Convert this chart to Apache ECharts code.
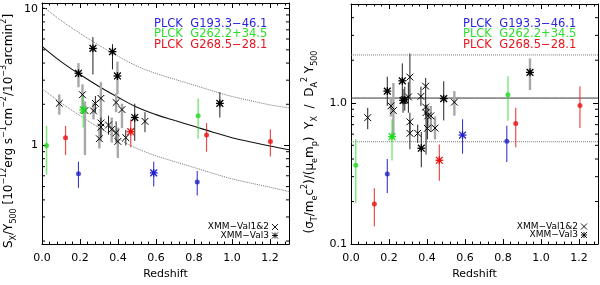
<!DOCTYPE html>
<html><head><meta charset="utf-8">
<script src="https://cdn.jsdelivr.net/npm/echarts@6/dist/echarts.min.js"></script>
<style>html,body{margin:0;padding:0;background:#fff}#c{width:600px;height:285px}</style>
</head><body><div id="c"></div>
<script>
// ---------- DATA ----------
// points are [redshift, value, errLow, errHigh]
const curveZ = [0, 0.1, 0.2, 0.3, 0.4, 0.5, 0.6, 0.7, 0.8, 0.9, 1.0, 1.1, 1.2, 1.3];
const sxModel = [5.3, 4.1, 3.3, 2.7, 2.25, 1.9, 1.68, 1.52, 1.38, 1.25, 1.14, 1.06, 0.99, 0.93];
const sxModelHi = [10.5, 8.2, 6.6, 5.4, 4.5, 3.8, 3.36, 3.04, 2.76, 2.5, 2.28, 2.12, 1.98, 1.88];
const sxModelLo = [2.6, 2.05, 1.65, 1.35, 1.12, 0.95, 0.84, 0.76, 0.69, 0.625, 0.57, 0.53, 0.495, 0.46];
const yxLevel = 1.08, yxLevelHi = 2.18, yxLevelLo = 0.53;

// left panel: Sx / Y500
const sxVal12A = [[0.281,2.03,1.75,2.3],[0.31,1.36,1.15,1.6],[0.35,1.41,1.2,1.65],[0.39,1.24,1.05,1.5],[0.441,1.14,1.0,1.3],[0.542,1.5,1.25,1.75]];
const sxVal12B = [[0.091,2.03,1.68,2.36],[0.213,2.35,1.9,2.8],[0.226,1.8,0.85,2.1],[0.271,1.79,1.55,2.05],[0.31,2.21,1.75,2.9],[0.31,1.46,1.1,1.85],[0.302,1.12,0.95,1.35],[0.367,1.31,1.05,1.6],[0.399,1.07,0.81,1.35],[0.39,2.06,1.75,2.4],[0.421,1.83,1.34,2.02]];
const sxVal3A = [[0.268,5.12,3.3,6.2],[0.371,4.85,3.6,5.5],[0.488,1.6,1.08,2.02],[0.936,2.03,1.6,2.45]];
const sxVal3B = [[0.192,3.37,2.66,4.0],[0.397,3.22,2.37,4.1]];
const sxBlueDot = [[0.192,0.62,0.49,0.76],[0.817,0.54,0.43,0.65]];
const sxBlueStar = [[0.588,0.63,0.5,0.76]];
const sxGreenDot = [[0.024,1.0,0.61,1.39],[0.822,1.65,1.12,2.2]];
const sxGreenStar = [[0.217,1.82,1.35,2.3]];
const sxRedDot = [[0.124,1.14,0.85,1.39],[0.866,1.19,0.9,1.46],[1.202,1.07,0.83,1.31]];
const sxRedStar = [[0.467,1.26,0.97,1.55]];

// right panel: Yx / DA^2 Y500
const yxVal12A = [[0.088,0.785,0.65,0.92],[0.302,1.1,0.85,1.4],[0.31,1.52,1.08,2.23],[0.31,0.733,0.62,0.85],[0.31,0.608,0.47,0.75],[0.351,0.608,0.52,0.7],[0.368,1.11,0.95,1.3],[0.393,1.31,1.1,1.5],[0.393,0.933,0.8,1.1],[0.395,0.852,0.43,0.97],[0.402,0.659,0.55,0.78]];
const yxVal12B = [[0.21,0.95,0.8,1.1],[0.223,0.88,0.57,1.38],[0.404,0.808,0.68,0.95],[0.42,0.808,0.62,0.95],[0.442,0.662,0.55,0.8],[0.544,1.01,0.81,1.21]];
const yxVal3A = [[0.191,1.21,0.95,1.53],[0.27,1.43,1.05,1.9],[0.274,1.04,0.85,1.25],[0.283,1.05,0.88,1.3],[0.37,0.477,0.35,0.62],[0.488,1.07,0.75,1.42]];
const yxVal3B = [[0.942,1.64,1.23,2.06]];
const yxBlueDot = [[0.191,0.313,0.23,0.40],[0.82,0.534,0.381,0.688]];
const yxBlueStar = [[0.587,0.591,0.436,0.765]];
const yxGreenDot = [[0.025,0.361,0.195,0.555],[0.826,1.14,0.745,1.54]];
const yxGreenStar = [[0.216,0.576,0.39,0.765]];
const yxRedDot = [[0.123,0.192,0.134,0.248],[0.867,0.713,0.485,0.923],[1.205,0.957,0.662,1.31]];
const yxRedStar = [[0.465,0.392,0.281,0.506]];

// axis ticks
const sxMajorTicks = [1, 10];
const sxMinorTicks = [0.2, 0.3, 0.4, 0.5, 0.6, 0.7, 0.8, 0.9, 2, 3, 4, 5, 6, 7, 8, 9];
const yxMajorTicks = [0.1, 1];
const yxMinorTicks = [0.2, 0.3, 0.4, 0.5, 0.6, 0.7, 0.8, 0.9, 2, 3, 4];

const clusterNames = ['PLCK  G193.3\u221246.1', 'PLCK  G262.2+34.5', 'PLCK  G268.5\u221228.1'];
const sampleNames = ['XMM\u2212Val1&2', 'XMM\u2212Val3'];

// ---------- STYLE ----------
const FONT = 'DejaVu Sans';
const BLUE = '#2a24e0', GREEN = '#2ee02e', RED = '#e8141e';
const DOT_BLUE = '#2222c8', DOT_GREEN = '#22d822', DOT_RED = '#e81010';
const XMIN = 0, XMAX = 1.3;

function xAx(gi, pos, labels) {
  return {
    type: 'value', gridIndex: gi, position: pos, min: XMIN, max: XMAX, interval: 0.2,
    axisLine: { show: true, onZero: false, lineStyle: { color: '#000', width: 1 } },
    axisTick: { show: true, inside: true, length: 5, lineStyle: { color: '#000' } },
    minorTick: { show: true, splitNumber: 5, length: 2.5, lineStyle: { color: '#000' } },
    splitLine: { show: false }, minorSplitLine: { show: false },
    axisLabel: { show: labels, formatter: v => v.toFixed(1), showMaxLabel: false, margin: 9,
      color: '#000', fontFamily: FONT, fontSize: 11 },
    name: labels ? 'Redshift' : '', nameLocation: 'middle', nameGap: 24,
    nameTextStyle: { color: '#000', fontFamily: FONT, fontSize: 11 }
  };
}
function yAx(gi, pos, labels, min, max, fmt, majors) {
  return {
    type: 'log', logBase: 10, gridIndex: gi, position: pos, min: min, max: max,
    axisLine: { show: true, onZero: false, lineStyle: { color: '#000', width: 1 } },
    axisTick: { show: true, inside: true, length: 5, customValues: majors, lineStyle: { color: '#000' } },
    minorTick: { show: false },
    splitLine: { show: false }, minorSplitLine: { show: false },
    axisLabel: { show: labels, formatter: fmt, customValues: majors, margin: 4,
      color: '#000', fontFamily: FONT, fontSize: 11 }
  };
}

// short inward minor ticks on both vertical borders, placed through the axis scale
function minorTickSeries(vals, xi) {
  return {
    type: 'custom', xAxisIndex: xi, yAxisIndex: xi, data: vals.map(v => [XMIN, v]),
    encode: { x: 0, y: 1 }, silent: true, z: 5, clip: false,
    renderItem: (p, api) => {
      const a = api.coord([XMIN, api.value(1)]);
      const b = api.coord([XMAX, api.value(1)]);
      const st = { stroke: '#000', lineWidth: 1 };
      return { type: 'group', children: [
        { type: 'line', shape: { x1: a[0], y1: a[1], x2: a[0] + 3, y2: a[1] }, style: st },
        { type: 'line', shape: { x1: b[0], y1: b[1], x2: b[0] - 3, y2: b[1] }, style: st }
      ] };
    }
  };
}
function errSeries(data, xi, color, width, opacity) {
  return {
    type: 'custom', xAxisIndex: xi, yAxisIndex: xi, data: data, encode: { x: 0, y: 1 },
    silent: true, z: 2, clip: true,
    renderItem: (p, api) => {
      const x = api.value(0);
      const a = api.coord([x, api.value(2)]);
      const b = api.coord([x, api.value(3)]);
      return { type: 'line', shape: { x1: a[0], y1: a[1], x2: b[0], y2: b[1] },
        style: { stroke: color, lineWidth: width, opacity: opacity } };
    }
  };
}
function markSeries(data, xi, kind, color) {
  return {
    type: 'custom', xAxisIndex: xi, yAxisIndex: xi, data: data, encode: { x: 0, y: 1 },
    silent: true, z: 4, clip: true,
    renderItem: (p, api) => {
      const c = api.coord([api.value(0), api.value(1)]);
      const s = 3.4, lw = kind === 'star' ? 1.3 : 1;
      const st = { stroke: color, lineWidth: lw };
      const ch = [
        { type: 'line', shape: { x1: c[0]-s, y1: c[1]-s, x2: c[0]+s, y2: c[1]+s }, style: st },
        { type: 'line', shape: { x1: c[0]-s, y1: c[1]+s, x2: c[0]+s, y2: c[1]-s }, style: st }
      ];
      if (kind === 'star') {
        ch.push({ type: 'line', shape: { x1: c[0], y1: c[1]-s-0.5, x2: c[0], y2: c[1]+s+0.5 }, style: st });
        ch.push({ type: 'line', shape: { x1: c[0]-s-0.5, y1: c[1], x2: c[0]+s+0.5, y2: c[1] }, style: st });
        ch.push({ type: 'circle', shape: { cx: c[0], cy: c[1], r: 1.8 }, style: { fill: color } });
      }
      return { type: 'group', children: ch };
    }
  };
}
function dotSeries(data, xi, color) {
  return { type: 'scatter', xAxisIndex: xi, yAxisIndex: xi, data: data.map(d => [d[0], d[1]]),
    symbol: 'circle', symbolSize: 5, itemStyle: { color: color }, z: 4, silent: true };
}
function lineSeries(xs, ys, xi, type, color, width) {
  return { type: 'line', xAxisIndex: xi, yAxisIndex: xi, data: xs.map((x, i) => [x, ys[i]]),
    smooth: 0.4, showSymbol: false, symbol: 'none', silent: true, z: 1,
    lineStyle: { color: color, width: width, type: type } };
}

function panelSeries(xi, d) {
  return [
    ...d.lines,
    minorTickSeries(d.minor, xi),
    errSeries(d.v12B, xi, '#a8a8a8', 2.4, 1),
    errSeries(d.v3B, xi, '#a8a8a8', 2.4, 1),
    errSeries(d.v12A, xi, '#222', 1, 1),
    errSeries(d.v3A, xi, '#222', 1, 1),
    errSeries(d.bD.concat(d.bS), xi, DOT_BLUE, 1.1, 0.9),
    errSeries(d.gD.concat(d.gS), xi, DOT_GREEN, 1.4, 0.6),
    errSeries(d.rD.concat(d.rS), xi, DOT_RED, 1.2, 0.75),
    markSeries(d.v12A.concat(d.v12B), xi, 'cross', '#000'),
    markSeries(d.v3A.concat(d.v3B), xi, 'star', '#000'),
    markSeries(d.bS, xi, 'star', DOT_BLUE),
    markSeries(d.gS, xi, 'star', DOT_GREEN),
    markSeries(d.rS, xi, 'star', DOT_RED),
    dotSeries(d.bD, xi, DOT_BLUE),
    dotSeries(d.gD, xi, DOT_GREEN),
    dotSeries(d.rD, xi, DOT_RED)
  ];
}

const leftSeries = panelSeries(0, {
  lines: [lineSeries(curveZ, sxModel, 0, 'solid', '#111', 1.1),
          lineSeries(curveZ, sxModelHi, 0, 'dotted', '#777', 1),
          lineSeries(curveZ, sxModelLo, 0, 'dotted', '#777', 1)],
  minor: sxMinorTicks,
  v12A: sxVal12A, v12B: sxVal12B, v3A: sxVal3A, v3B: sxVal3B,
  bD: sxBlueDot, bS: sxBlueStar, gD: sxGreenDot, gS: sxGreenStar, rD: sxRedDot, rS: sxRedStar
});
const rightSeries = panelSeries(2, {
  lines: [lineSeries([XMIN, XMAX], [yxLevel, yxLevel], 2, 'solid', '#333', 1),
          lineSeries([XMIN, XMAX], [yxLevelHi, yxLevelHi], 2, 'dotted', '#777', 1),
          lineSeries([XMIN, XMAX], [yxLevelLo, yxLevelLo], 2, 'dotted', '#777', 1)],
  minor: yxMinorTicks,
  v12A: yxVal12A, v12B: yxVal12B, v3A: yxVal3A, v3B: yxVal3B,
  bD: yxBlueDot, bS: yxBlueStar, gD: yxGreenDot, gS: yxGreenStar, rD: yxRedDot, rS: yxRedStar
});

// ---------- GRAPHIC (legends, titles) ----------
function legendTexts(x) {
  const cols = [BLUE, GREEN, RED], ys = [24, 34.5, 45];
  return clusterNames.map((t, i) => ({ type: 'text', x: x, y: ys[i], silent: true,
    style: { text: t, fill: cols[i], font: '11.5px "DejaVu Sans"', textAlign: 'left', textVerticalAlign: 'middle' } }));
}
function sampleLegend(xr, y1, y2) {
  const s = 3;
  const st = { stroke: '#000', lineWidth: 0.9 };
  const sx = xr + 6;
  return [
    { type: 'text', x: xr, y: y1, silent: true, style: { text: sampleNames[0], fill: '#000', font: '9px "DejaVu Sans"', textAlign: 'right', textVerticalAlign: 'middle' } },
    { type: 'text', x: xr, y: y2, silent: true, style: { text: sampleNames[1], fill: '#000', font: '9px "DejaVu Sans"', textAlign: 'right', textVerticalAlign: 'middle' } },
    { type: 'line', silent: true, shape: { x1: sx-s, y1: y1-s, x2: sx+s, y2: y1+s }, style: st },
    { type: 'line', silent: true, shape: { x1: sx-s, y1: y1+s, x2: sx+s, y2: y1-s }, style: st },
    { type: 'line', silent: true, shape: { x1: sx-s, y1: y2-s, x2: sx+s, y2: y2+s }, style: st },
    { type: 'line', silent: true, shape: { x1: sx-s, y1: y2+s, x2: sx+s, y2: y2-s }, style: st },
    { type: 'line', silent: true, shape: { x1: sx, y1: y2-s, x2: sx, y2: y2+s }, style: st },
    { type: 'line', silent: true, shape: { x1: sx-s, y1: y2, x2: sx+s, y2: y2 }, style: st }
  ];
}
const RICH = {
  m: { fontFamily: FONT, fontSize: 12, lineHeight: 18, fill: '#000', verticalAlign: 'middle' },
  sp: { fontFamily: FONT, fontSize: 8, lineHeight: 10, fill: '#000', verticalAlign: 'top' },
  sb: { fontFamily: FONT, fontSize: 8, lineHeight: 10, fill: '#000', verticalAlign: 'bottom' }
};
const leftTitle = '{m|S}{sb|X}{m|/Y}{sb|500}{m| [10}{sp|\u221212}{m|erg s}{sp|\u22121}{m|cm}{sp|\u22122}{m|/10}{sp|\u22123}{m|arcmin}{sp|2}{m|]}';
const rightTitle = '{m|(\u03c3}{sb|T}{m|/m}{sb|e}{m|c}{sp|2}{m|)/(\u03bc}{sb|e}{m|m}{sb|p}{m|)  Y}{sb|X}{m|  /  D}{sb|A}{sp|2}{m| Y}{sb|500}';

const graphic = [
  ...legendTexts(154), ...legendTexts(463),
  ...sampleLegend(269, 227, 235.5), ...sampleLegend(578, 226.5, 235),
  { type: 'text', x: 9, y: 131, rotation: Math.PI / 2, silent: true,
    style: { text: leftTitle, rich: RICH, textAlign: 'center', textVerticalAlign: 'middle', fill: '#000' } },
  { type: 'text', x: 310, y: 142, rotation: Math.PI / 2, silent: true,
    style: { text: rightTitle, rich: RICH, textAlign: 'center', textVerticalAlign: 'middle', fill: '#000' } }
];

const option = {
  animation: false,
  backgroundColor: '#fff',
  grid: [
    { left: 42, top: 3, width: 247, height: 249, containLabel: false },
    { left: 351, top: 4, width: 247, height: 245, containLabel: false }
  ],
  xAxis: [xAx(0, 'bottom', true), xAx(0, 'top', false), xAx(1, 'bottom', true), xAx(1, 'top', false)],
  yAxis: [
    yAx(0, 'left', true, 0.19, 11, v => String(Math.round(v)), sxMajorTicks),
    yAx(0, 'right', false, 0.19, 11, null, sxMajorTicks),
    yAx(1, 'left', true, 0.1, 5, v => v.toFixed(1), yxMajorTicks),
    yAx(1, 'right', false, 0.1, 5, null, yxMajorTicks)
  ],
  series: [...leftSeries, ...rightSeries],
  graphic: graphic
};
const chart = echarts.init(document.getElementById('c'), null, { renderer: 'canvas' });
chart.setOption(option);
</script></body></html>
